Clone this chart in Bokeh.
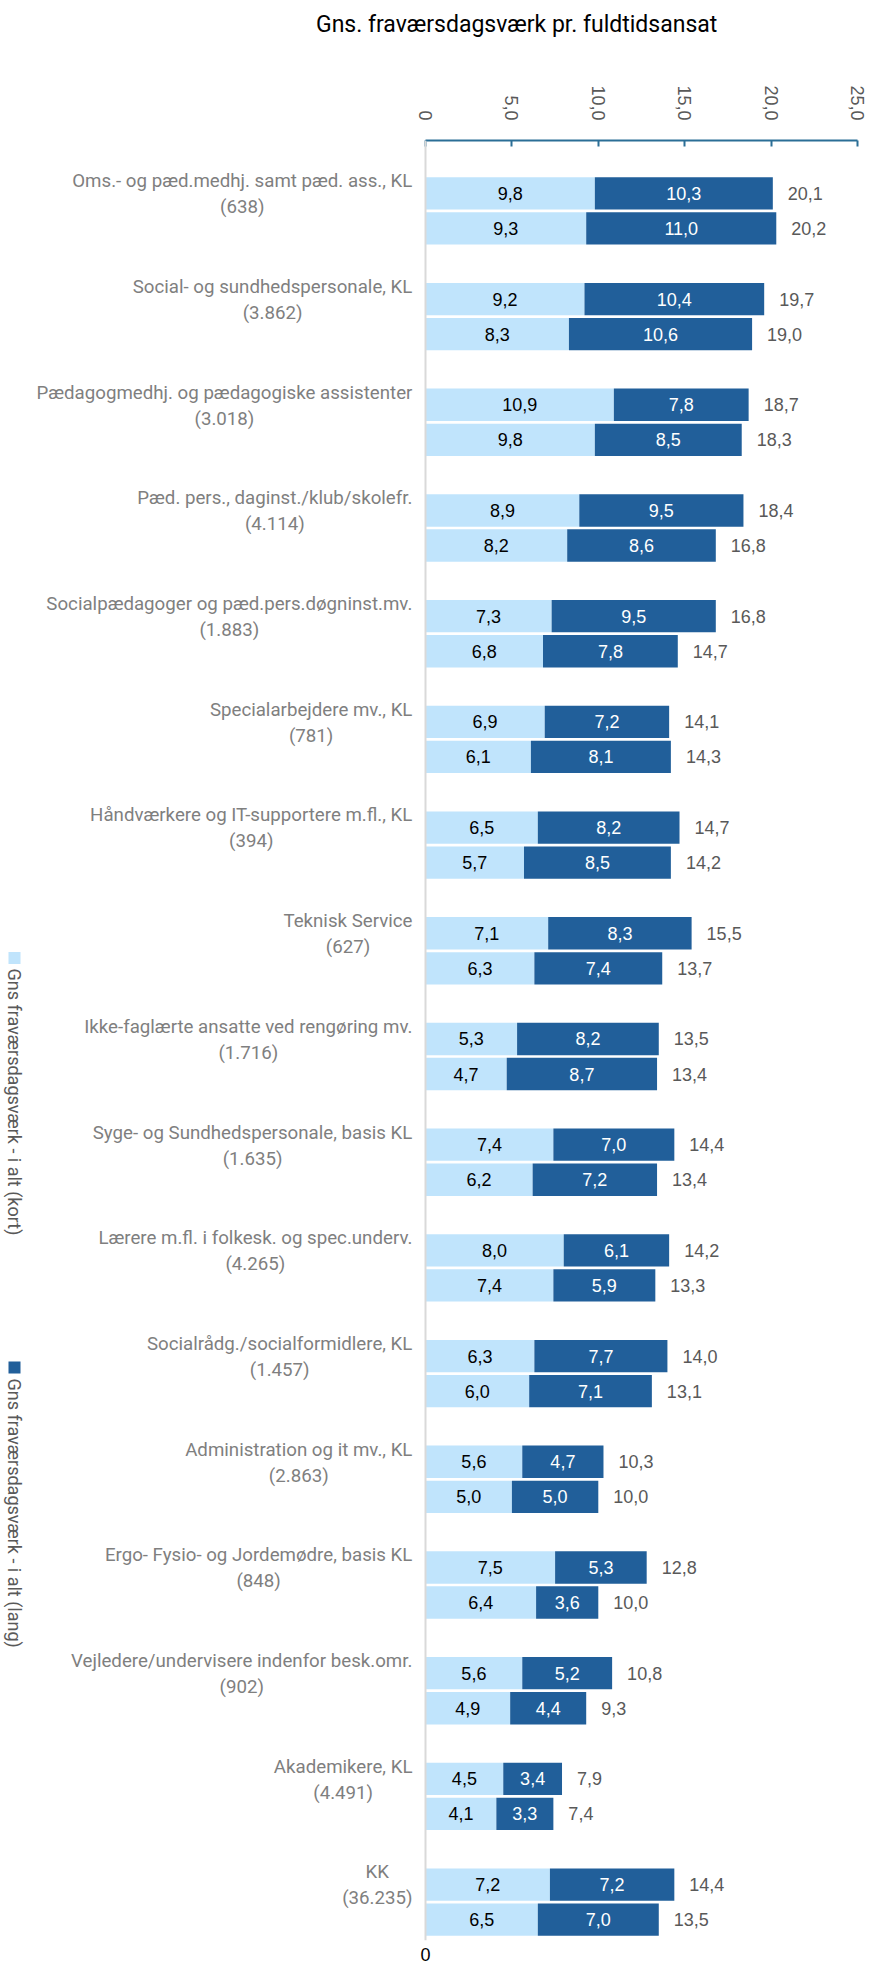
import math
import glob
import subprocess
from bokeh.plotting import figure
from bokeh.layouts import column
from bokeh.models import ColumnDataSource, Range1d, FixedTicker, LinearAxis, Span
from bokeh.core.properties import value
from bokeh.embed import file_html
from bokeh.resources import INLINE

# ---------------- data ----------------
categories = [
    "Oms.- og pæd.medhj. samt pæd. ass., KL", "Social- og sundhedspersonale, KL",
    "Pædagogmedhj. og pædagogiske assistenter", "Pæd. pers., daginst./klub/skolefr.",
    "Socialpædagoger og pæd.pers.døgninst.mv.", "Specialarbejdere mv., KL",
    "Håndværkere og IT-supportere m.fl., KL", "Teknisk Service",
    "Ikke-faglærte ansatte ved rengøring mv.", "Syge- og Sundhedspersonale, basis KL",
    "Lærere m.fl. i folkesk. og spec.underv.", "Socialrådg./socialformidlere, KL",
    "Administration og it mv., KL", "Ergo- Fysio- og Jordemødre, basis KL",
    "Vejledere/undervisere indenfor besk.omr.", "Akademikere, KL", "KK",
]
counts = ["638", "3.862", "3.018", "4.114", "1.883", "781", "394", "627", "1.716",
          "1.635", "4.265", "1.457", "2.863", "848", "902", "4.491", "36.235"]

# upper bar of each pair
kort_1 = [9.8, 9.2, 10.9, 8.9, 7.3, 6.9, 6.5, 7.1, 5.3, 7.4, 8.0, 6.3, 5.6, 7.5, 5.6, 4.5, 7.2]
lang_1 = [10.3, 10.4, 7.8, 9.5, 9.5, 7.2, 8.2, 8.3, 8.2, 7.0, 6.1, 7.7, 4.7, 5.3, 5.2, 3.4, 7.2]
total_1 = [20.1, 19.7, 18.7, 18.4, 16.8, 14.1, 14.7, 15.5, 13.5, 14.4, 14.2, 14.0, 10.3, 12.8, 10.8, 7.9, 14.4]
# lower bar of each pair
kort_2 = [9.3, 8.3, 9.8, 8.2, 6.8, 6.1, 5.7, 6.3, 4.7, 6.2, 7.4, 6.0, 5.0, 6.4, 4.9, 4.1, 6.5]
lang_2 = [11.0, 10.6, 8.5, 8.6, 7.8, 8.1, 8.5, 7.4, 8.7, 7.2, 5.9, 7.1, 5.0, 3.6, 4.4, 3.3, 7.0]
total_2 = [20.2, 19.0, 18.3, 16.8, 14.7, 14.3, 14.2, 13.7, 13.4, 13.4, 13.3, 13.1, 10.0, 10.0, 9.3, 7.4, 13.5]

x_ticks = [0, 5, 10, 15, 20, 25]
x_tick_labels = ["0", "5,0", "10,0", "15,0", "20,0", "25,0"]

title_text = "Gns. fraværsdagsværk pr. fuldtidsansat"
legend_kort = "Gns fraværsdagsværk - i alt (kort)"
legend_lang = "Gns fraværsdagsværk - i alt (lang)"

# ---------------- style ----------------
LIGHT = "#C0E4FC"
DARK = "#215F9A"
CAT_FONT = "Roboto"
NUM_FONT = "Liberation Sans"
CAT_SIZE = 18.7
TITLE_SIZE = 23


def find_font(name):
    try:
        r = subprocess.run(["fc-match", "-f", "%{file}", name],
                           capture_output=True, text=True, timeout=10)
        if r.returncode == 0 and r.stdout.strip():
            return r.stdout.strip()
    except Exception:
        pass
    hits = glob.glob("/usr/share/fonts/**/Roboto-Regular.ttf", recursive=True)
    return hits[0] if hits else None


_font_path = find_font(CAT_FONT)
_pil_font = None
try:
    from PIL import ImageFont
    if _font_path:
        _pil_font = ImageFont.truetype(_font_path, 100)
except Exception:
    _pil_font = None


def text_width(s, size):
    if _pil_font is not None:
        return _pil_font.getlength(s) * size / 100.0
    return len(s) * 0.47 * size


def fmt(v):
    return f"{v:.1f}".replace(".", ",")


# ---------------- geometry ----------------
W, H = 875, 1964
TITLE_H = 60                       # height of the title strip
FRAME_TOP = 140                    # page y of the plot frame top
FRAME_W, FRAME_H = 857, 1800
BT = FRAME_TOP - TITLE_H
BB = H - FRAME_TOP - FRAME_H
ZERO_PX = 425                      # pixel of value 0 inside the frame
PX_X = (FRAME_W - ZERO_PX) / 25.0
X_LEFT = -ZERO_PX / PX_X
GROUP_PX = 105.7
Y_TOP = -70.4 / GROUP_PX
Y_BOT = Y_TOP + FRAME_H / GROUP_PX
OFF = 0.166
BAR_H = 0.306


def dx(px):
    return (px - ZERO_PX) / PX_X


def dy(py):
    return Y_TOP + (py - FRAME_TOP) / GROUP_PX


# ---------------- title strip ----------------
t = figure(width=W, height=TITLE_H, output_backend="svg", toolbar_location=None,
           x_range=Range1d(0, W), y_range=Range1d(TITLE_H, 0),
           x_axis_location=None, y_axis_location=None,
           min_border=0)
t.xgrid.visible = False
t.ygrid.visible = False
t.outline_line_color = None
t.text(x=[527], y=[24], text=[title_text], text_align="center",
       text_baseline="middle", text_font=value(CAT_FONT),
       text_font_size=f"{TITLE_SIZE}px", text_color="black")

# ---------------- main chart ----------------
p = figure(width=W, height=H - TITLE_H, frame_width=FRAME_W, frame_height=FRAME_H,
           output_backend="svg", toolbar_location=None,
           x_range=Range1d(X_LEFT, 25), y_range=Range1d(Y_BOT, Y_TOP),
           x_axis_location="above", y_axis_location=None,
           min_border_left=0, min_border_right=W - FRAME_W,
           min_border_top=BT, min_border_bottom=BB)
p.xgrid.visible = False
p.ygrid.visible = False
p.outline_line_color = None

idx = list(range(len(categories)))
y1 = [i - OFF for i in idx]
y2 = [i + OFF for i in idx]

# category axis line (value 0)
p.add_layout(Span(location=0, dimension="height", line_color="#D9D9D9", line_width=2))


def add_pair(ys, kort, lang, total):
    right2 = [a + b for a, b in zip(kort, lang)]
    src = ColumnDataSource(dict(
        y=ys, k=kort, l0=kort, l1=right2,
        kx=[k / 2 for k in kort], lx=[(a + b) / 2 for a, b in zip(kort, right2)],
        kt=[fmt(v) for v in kort], lt=[fmt(v) for v in lang],
        tt=[fmt(v) for v in total]))
    p.hbar(y="y", left=0, right="k", height=BAR_H, source=src,
           fill_color=LIGHT, line_color=None)
    p.hbar(y="y", left="l0", right="l1", height=BAR_H, source=src,
           fill_color=DARK, line_color=None)
    p.text(x="kx", y="y", text="kt", source=src, text_align="center",
           text_baseline="middle", text_font=value(NUM_FONT),
           text_font_size="18px", text_color="black")
    p.text(x="lx", y="y", text="lt", source=src, text_align="center",
           text_baseline="middle", text_font=value(NUM_FONT),
           text_font_size="18px", text_color="white")
    p.text(x="l1", y="y", text="tt", source=src, text_align="left",
           text_baseline="middle", x_offset=15, text_font=value(NUM_FONT),
           text_font_size="18px", text_color="#595959")


add_pair(y1, kort_1, lang_1, total_1)
add_pair(y2, kort_2, lang_2, total_2)

# category labels (two centred lines, block right-aligned next to the axis)
count_txt = [f"({n})" for n in counts]
block_w = [max(text_width(c, CAT_SIZE), text_width(n, CAT_SIZE))
           for c, n in zip(categories, count_txt)]
cat_src = ColumnDataSource(dict(
    x=[0.0] * len(idx),
    xo=[-13 - w / 2 for w in block_w],
    ya=[i - 29.7 / GROUP_PX for i in idx],
    yb=[i - 3.7 / GROUP_PX for i in idx],
    a=categories, b=count_txt))
for ycol, tcol in (("ya", "a"), ("yb", "b")):
    p.text(x="x", y=ycol, text=tcol, x_offset="xo", source=cat_src,
           text_align="center", text_baseline="middle",
           text_font=value(CAT_FONT), text_font_size=f"{CAT_SIZE}px",
           text_color="#7F7F7F")

# legend (vertical, at the left edge)
leg_src = ColumnDataSource(dict(
    x=[dx(14), dx(14)], ys=[dy(957.5), dy(1367)], yt=[dy(968), dy(1378)],
    c=[LIGHT, DARK], t=[legend_kort, legend_lang]))
p.scatter(x="x", y="ys", marker="square", size=12, fill_color="c",
          line_color=None, source=leg_src)
p.text(x="x", y="yt", text="t", angle=-math.pi / 2, source=leg_src,
       text_align="left", text_baseline="middle", text_font=value(CAT_FONT),
       text_font_size="18px", text_color="#595959")

# top value axis
xa = p.xaxis[0]
xa.ticker = FixedTicker(ticks=x_ticks)
xa.bounds = (0, 25)
xa.major_label_overrides = {t_: s for t_, s in zip(x_ticks, x_tick_labels)}
xa.major_label_orientation = -math.pi / 2
xa.axis_line_color = "#2B6E96"
xa.axis_line_width = 2
xa.major_tick_line_color = "#2B6E96"
xa.major_tick_line_width = 2
xa.major_tick_in = 6
xa.major_tick_out = 0
xa.minor_tick_line_color = None
xa.major_label_standoff = 20
xa.major_label_text_font = NUM_FONT
xa.major_label_text_font_size = "18px"
xa.major_label_text_color = "#595959"

# bottom (secondary) axis showing only 0
xb = LinearAxis(ticker=FixedTicker(ticks=[0]), major_label_overrides={0: "0"})
xb.bounds = (0, 25)
xb.axis_line_color = None
xb.major_tick_line_color = None
xb.minor_tick_line_color = None
xb.major_label_standoff = 1
xb.major_label_text_font = NUM_FONT
xb.major_label_text_font_size = "18px"
xb.major_label_text_color = "black"
p.add_layout(xb, "below")

layout = column(t, p, spacing=0)
open("out.html", "w").write(file_html(layout, INLINE))
